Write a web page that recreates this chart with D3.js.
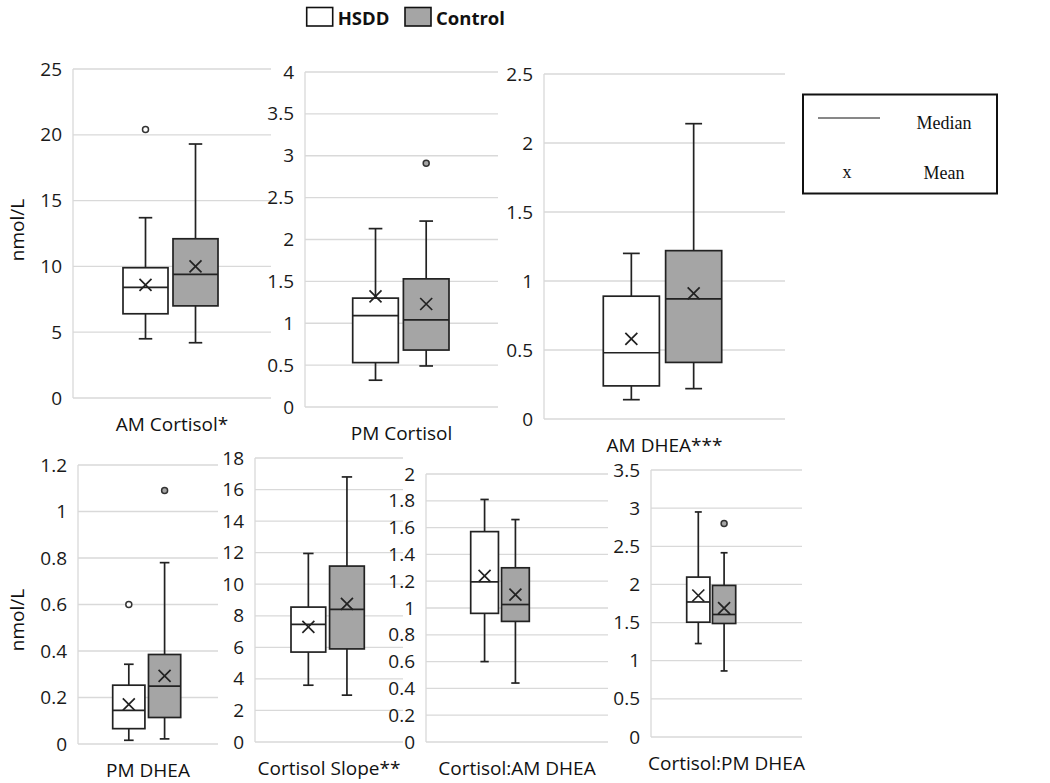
<!DOCTYPE html>
<html>
<head>
<meta charset="utf-8">
<script src="https://cdnjs.cloudflare.com/ajax/libs/d3/7.8.5/d3.min.js"></script>
<style>
  body { margin: 0; background: #fff; }
  svg { display: block; font-family: "Open Sans", sans-serif; }
  .grid line, .yline { stroke: #d9d9d9; stroke-width: 1.3; }
  .axis text { font-family: "Open Sans", sans-serif; font-size: 19px; fill: #1a1a1a; }
  .label { font-size: 19px; fill: #111; text-anchor: middle; }
  .ytitle { font-size: 19px; fill: #111; text-anchor: middle; }
  .box rect, .box line { stroke: #222; stroke-width: 1.7; }
  .box .mean { stroke: #222; stroke-width: 1.7; }
  .legend text { font-size: 18.5px; font-weight: bold; fill: #111; }
  .key text { font-family: "Liberation Serif", "Times New Roman", serif; font-size: 18px; fill: #111; text-anchor: middle; }
</style>
</head>
<body>
<div id="graphic"></div>
<script>
var panels = ["AM Cortisol*", "PM Cortisol", "AM DHEA***", "PM DHEA", "Cortisol Slope**", "Cortisol:AM DHEA", "Cortisol:PM DHEA"];
var groups = ["HSDD", "Control"];

var yTicks = [
  [0, 5, 10, 15, 20, 25],
  [0, 0.5, 1, 1.5, 2, 2.5, 3, 3.5, 4],
  [0, 0.5, 1, 1.5, 2, 2.5],
  [0, 0.2, 0.4, 0.6, 0.8, 1, 1.2],
  [0, 2, 4, 6, 8, 10, 12, 14, 16, 18],
  [0, 0.2, 0.4, 0.6, 0.8, 1, 1.2, 1.4, 1.6, 1.8, 2],
  [0, 0.5, 1, 1.5, 2, 2.5, 3, 3.5]
];

// [min, q1, median, q3, max]
var hsddBox = [
  [4.5, 6.4, 8.4, 9.9, 13.7],
  [0.32, 0.53, 1.09, 1.30, 2.13],
  [0.14, 0.24, 0.48, 0.89, 1.20],
  [0.016, 0.066, 0.145, 0.253, 0.343],
  [3.6, 5.7, 7.45, 8.55, 11.95],
  [0.60, 0.96, 1.195, 1.57, 1.81],
  [1.225, 1.505, 1.77, 2.096, 2.95]
];
var hsddMean = [8.6, 1.32, 0.58, 0.17, 7.3, 1.24, 1.855];
var hsddOutliers = [[20.4], [], [], [0.60], [], [], []];

var controlBox = [
  [4.2, 7.0, 9.4, 12.1, 19.3],
  [0.49, 0.68, 1.04, 1.53, 2.22],
  [0.22, 0.41, 0.87, 1.22, 2.14],
  [0.022, 0.114, 0.249, 0.385, 0.78],
  [2.97, 5.9, 8.4, 11.15, 16.8],
  [0.44, 0.90, 1.026, 1.30, 1.66],
  [0.866, 1.488, 1.606, 1.987, 2.415]
];
var controlMean = [10.0, 1.23, 0.91, 0.293, 8.75, 1.10, 1.69];
var controlOutliers = [[], [2.91], [], [1.09], [], [], [2.80]];

var fills = { HSDD: "#ffffff", Control: "#a5a5a5" };

// plot rectangles: x0/x1 plot edges, y0 = top tick, y1 = zero, bx0/bx1 = span of the two boxes
var layout = [
  { x0: 73,  x1: 271, y0: 69,  y1: 398, bx0: 123,   bx1: 218 },
  { x0: 305, x1: 498, y0: 72,  y1: 407, bx0: 352.7, bx1: 449 },
  { x0: 544, x1: 785, y0: 74,  y1: 419, bx0: 603.3, bx1: 721.7 },
  { x0: 78,  x1: 218, y0: 465, y1: 744, bx0: 112.7, bx1: 180.7 },
  { x0: 255, x1: 403, y0: 458, y1: 742, bx0: 291,   bx1: 364.3 },
  { x0: 426, x1: 608, y0: 474, y1: 742, bx0: 470.7, bx1: 529.3 },
  { x0: 651, x1: 802, y0: 470, y1: 737, bx0: 686.7, bx1: 735.7 }
];

var svg = d3.select("#graphic").append("svg")
    .attr("width", 1050)
    .attr("height", 783);

panels.forEach(function(name, i) {
  var L = layout[i];
  var y = d3.scaleLinear().domain([0, d3.max(yTicks[i])]).range([L.y1, L.y0]);
  var x = d3.scaleBand().domain(groups).range([L.bx0, L.bx1]).paddingInner(0.1);
  var bw = x.bandwidth(), cap = bw * 0.3, m = 6;

  var g = svg.append("g").attr("class", "panel");

  g.append("g").attr("class", "grid")
    .selectAll("line")
      .data(yTicks[i])
    .enter().append("line")
      .attr("x1", L.x0).attr("x2", L.x1)
      .attr("y1", function(d) { return y(d); })
      .attr("y2", function(d) { return y(d); });

  g.append("line").attr("class", "yline")
    .attr("x1", L.x0).attr("x2", L.x0)
    .attr("y1", L.y0).attr("y2", L.y1);

  var axis = d3.axisLeft(y)
    .tickValues(yTicks[i])
    .tickSize(0)
    .tickPadding(11)
    .tickFormat(d3.format("~g"));

  g.append("g").attr("class", "axis")
    .attr("transform", "translate(" + L.x0 + ",0)")
    .call(axis)
    .select(".domain").remove();

  g.append("text").attr("class", "label")
    .attr("x", (L.x0 + L.x1) / 2)
    .attr("y", L.y1 + 33)
    .text(name);

  var rows = [
    { group: "HSDD", s: hsddBox[i], mean: hsddMean[i], out: hsddOutliers[i] },
    { group: "Control", s: controlBox[i], mean: controlMean[i], out: controlOutliers[i] }
  ];

  var box = g.selectAll("g.box")
      .data(rows)
    .enter().append("g")
      .attr("class", "box")
      .attr("transform", function(d) { return "translate(" + x(d.group) + ",0)"; });

  // whiskers + caps
  box.append("line")
    .attr("x1", bw / 2).attr("x2", bw / 2)
    .attr("y1", function(d) { return y(d.s[4]); })
    .attr("y2", function(d) { return y(d.s[3]); });
  box.append("line")
    .attr("x1", bw / 2).attr("x2", bw / 2)
    .attr("y1", function(d) { return y(d.s[1]); })
    .attr("y2", function(d) { return y(d.s[0]); });
  [0, 4].forEach(function(k) {
    box.append("line")
      .attr("x1", bw / 2 - cap / 2).attr("x2", bw / 2 + cap / 2)
      .attr("y1", function(d) { return y(d.s[k]); })
      .attr("y2", function(d) { return y(d.s[k]); });
  });

  box.append("rect")
    .attr("x", 0)
    .attr("width", bw)
    .attr("y", function(d) { return y(d.s[3]); })
    .attr("height", function(d) { return y(d.s[1]) - y(d.s[3]); })
    .attr("fill", function(d) { return fills[d.group]; });

  box.append("line")
    .attr("x1", 0).attr("x2", bw)
    .attr("y1", function(d) { return y(d.s[2]); })
    .attr("y2", function(d) { return y(d.s[2]); });

  // mean as an x
  box.append("path")
    .attr("class", "mean")
    .attr("fill", "none")
    .attr("d", function(d) {
      var cx = bw / 2, cy = y(d.mean);
      return "M" + (cx - m) + "," + (cy - m) + "L" + (cx + m) + "," + (cy + m) +
             "M" + (cx - m) + "," + (cy + m) + "L" + (cx + m) + "," + (cy - m);
    });

  box.selectAll("circle")
      .data(function(d) { return d.out.map(function(v) { return { v: v, group: d.group }; }); })
    .enter().append("circle")
      .attr("cx", bw / 2)
      .attr("cy", function(d) { return y(d.v); })
      .attr("r", 3)
      .attr("fill", function(d) { return fills[d.group]; })
      .attr("stroke", "#333")
      .attr("stroke-width", 1.5);
});

// y titles
[[17, 230], [17, 620]].forEach(function(p) {
  svg.append("text").attr("class", "ytitle")
    .attr("transform", "translate(" + p[0] + "," + p[1] + ") rotate(-90)")
    .attr("dy", "0.35em")
    .text("nmol/L");
});

// group legend
var legend = svg.append("g").attr("class", "legend")
  .selectAll("g")
    .data(groups)
  .enter().append("g")
    .attr("transform", function(d, i) { return "translate(" + [306.7, 405][i] + ",7.5)"; });

legend.append("rect")
  .attr("width", 26).attr("height", 18.5)
  .attr("fill", function(d) { return fills[d]; })
  .attr("stroke", "#111").attr("stroke-width", 1.6);

legend.append("text")
  .attr("x", 31).attr("y", 17)
  .text(function(d) { return d; });

// median / mean key
var key = svg.append("g").attr("class", "key");
key.append("rect")
  .attr("x", 803).attr("y", 94.5).attr("width", 194).attr("height", 99)
  .attr("fill", "#fff").attr("stroke", "#111").attr("stroke-width", 2);
key.append("line")
  .attr("x1", 818).attr("x2", 880).attr("y1", 118).attr("y2", 118)
  .attr("stroke", "#111").attr("stroke-width", 1);
key.append("text").attr("x", 944).attr("y", 129).text("Median");
key.append("text").attr("x", 847).attr("y", 178).text("x");
key.append("text").attr("x", 944).attr("y", 179).text("Mean");
</script>
</body>
</html>
